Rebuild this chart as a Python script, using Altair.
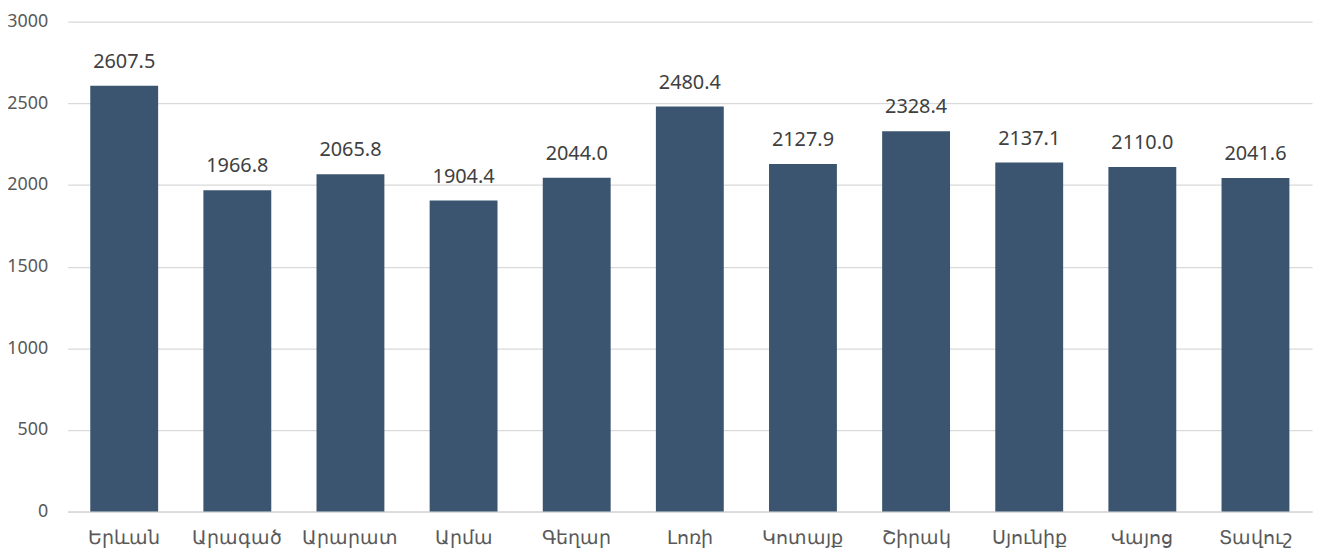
import altair as alt
import pandas as pd

regions = ["Երևան", "Արագած", "Արարատ", "Արմա", "Գեղար", "Լոռի", "Կոտայք", "Շիրակ", "Սյունիք", "Վայոց", "Տավուշ"]
values = [2607.5, 1966.8, 2065.8, 1904.4, 2044.0, 2480.4, 2127.9, 2328.4, 2137.1, 2110.0, 2041.6]
y_ticks = [0, 500, 1000, 1500, 2000, 2500, 3000]

df = pd.DataFrame({"region": regions, "value": values})
df["label"] = [f"{v:.1f}" for v in values]

FONT = "Noto Sans"

base = alt.Chart(df).encode(
    x=alt.X("region:N", sort=regions, title=None,
            scale=alt.Scale(paddingInner=0.4, paddingOuter=0.2),
            axis=alt.Axis(labelAngle=0, ticks=False, domain=True, domainColor="#d9d9d9",
                          domainWidth=1.5,
                          labelFont=FONT, labelFontSize=19, labelColor="#595959",
                          labelPadding=17)),
)

bars = base.mark_bar(color="#3b5470").encode(
    y=alt.Y("value:Q", title=None,
            scale=alt.Scale(domain=[0, 3000], nice=False),
            axis=alt.Axis(values=y_ticks, format="d", domain=False, ticks=False,
                          gridColor="#d9d9d9", gridWidth=1.2, labelFont=FONT,
                          labelFontSize=18, labelColor="#595959", labelPadding=20))
)

text = base.mark_text(dy=-14, baseline="bottom", font=FONT, fontSize=20,
                      color="#404040").encode(
    y=alt.Y("value:Q"),
    text="label:N",
)

chart = (bars + text).properties(
    width=1252, height=493,
    autosize=alt.AutoSizeParams(type="none"),
    padding={"left": 60, "top": 12, "right": 5, "bottom": 36},
).configure_view(stroke=None)

chart.save("out.html", embed_options={"renderer": "svg", "actions": False})
